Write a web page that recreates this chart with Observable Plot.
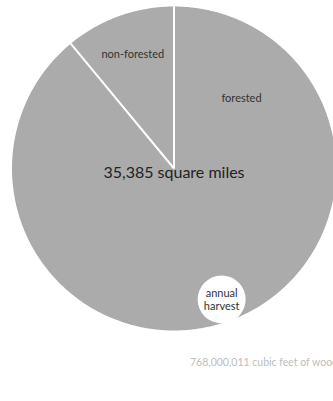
<!DOCTYPE html>
<html>
<head>
<meta charset="utf-8">
<script src="https://cdn.jsdelivr.net/npm/d3@7"></script>
<script src="https://cdn.jsdelivr.net/npm/@observablehq/plot@0.6"></script>
<style>
  html, body { margin: 0; padding: 0; background: #fff; overflow: hidden; width: 333px; height: 401px; }
  #chart svg { display: block; }
  .caption {
    font-family: Lato, "Open Sans", sans-serif;
    font-size: 10.5px;
    line-height: 14px;
    color: #bdbdbd;
    white-space: nowrap;
    padding-left: 190px;
    margin-top: 10px;
  }
</style>
</head>
<body>
<div id="chart"></div>
<script>
// Maine land cover
const categories = ["forested", "non-forested"];
const shares = [89, 11];            // percent of land area
const totalArea = 35385;            // square miles
const harvestCubicFeet = 768000011; // annual harvest

// Layout
const W = 333, H = 345, CX = 173.5, CY = 168, R = 162;
const DEG = Math.PI / 180;
const polar = (bearing, r) => ({x: r * Math.sin(bearing * DEG), y: r * Math.cos(bearing * DEG)});

// Slice outlines, clockwise from 12 o'clock, in unit-circle coordinates
const total = d3.sum(shares);
const starts = d3.cumsum([0, ...shares.slice(0, -1)]).map(v => v / total * 360);
const slices = [];
categories.forEach((c, i) => {
  const a0 = starts[i], a1 = starts[i] + shares[i] / total * 360;
  const n = Math.ceil(a1 - a0) * 2;
  slices.push({category: c, x: 0, y: 0});
  for (let k = 0; k <= n; k++) slices.push({category: c, ...polar(a0 + (a1 - a0) * k / n, 1)});
  slices.push({category: c, x: 0, y: 0});
});

// Radial dividers at each slice boundary
const dividers = Array.from(starts, b => ({x1: 0, y1: 0, ...(({x, y}) => ({x2: x, y2: y}))(polar(b, 1))}));

// Slice labels
const labelPlacement = {"forested": polar(44, 0.6)};
const labels = categories.map((c, i) => {
  const mid = starts[i] + shares[i] / total * 180;
  return {text: c, ...(labelPlacement[c] ?? polar(mid, 0.75))};
});

const harvestSpot = polar(160, 0.86);

const chart = Plot.plot({
  width: W,
  height: H,
  margin: 0,
  x: {domain: [-1, 1], range: [CX - R, CX + R], axis: null},
  y: {domain: [-1, 1], range: [CY + R, CY - R], axis: null},
  style: {fontFamily: "Lato, 'Open Sans', sans-serif", background: "white", overflow: "hidden"},
  marks: [
    Plot.line(slices, {x: "x", y: "y", z: "category", fill: "#ababab", stroke: "none", curve: "linear"}),
    Plot.link(dividers, {x1: "x1", y1: "y1", x2: "x2", y2: "y2", stroke: "white", strokeWidth: 2}),
    Plot.text(labels, {x: "x", y: "y", text: "text", fontSize: 11, fill: "#333"}),
    Plot.text([`${d3.format(",")(totalArea)} square miles`], {x: () => 0, y: () => 0, text: d => d, fontSize: 16, fill: "#222", dy: 4}),
    Plot.dot([harvestSpot], {x: "x", y: "y", r: 24, fill: "white", stroke: "none"}),
    Plot.text([harvestSpot], {x: "x", y: "y", text: () => "annual\nharvest", fontSize: 11, lineHeight: 1.2, fill: "#333"})
  ]
});
document.getElementById("chart").append(chart);

const caption = document.createElement("div");
caption.className = "caption";
caption.textContent = `${d3.format(",")(harvestCubicFeet)} cubic feet of wood`;
document.body.append(caption);
</script>
</body>
</html>
